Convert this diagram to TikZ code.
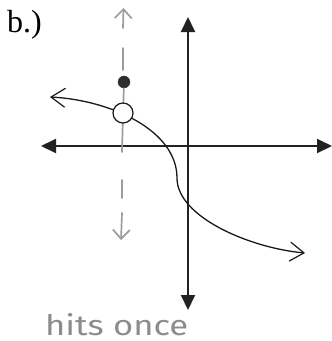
\documentclass[tikz,border=0pt]{standalone}
\usepackage{fontspec}
\setmainfont{Liberation Serif}
\newfontfamily\handfont{Fira Sans}
\usetikzlibrary{arrows.meta}
\definecolor{axiscol}{HTML}{222222}
\definecolor{pencil}{HTML}{9C9C9C}
\definecolor{handgray}{HTML}{8C8C8C}
\tikzset{
  axisline/.style={line width=2pt, draw=axiscol,
    {Triangle[length=15pt,width=14pt]}-{Triangle[length=15pt,width=14pt]}},
  curveline/.style={line width=1.3pt, draw=black!90,
    {Straight Barb[length=14pt,width=19pt,line width=1.2pt]}-{Straight Barb[length=14pt,width=19pt,line width=1.2pt]}},
  pencilline/.style={line width=1.7pt, draw=pencil, line cap=round},
  pencilarrow/.style={pencilline, -{Straight Barb[length=9pt,width=17pt,line width=1.7pt]}},
  dotnode/.style={circle, fill=black!82, draw=black!82, minimum size=12pt, inner sep=0pt},
  holenode/.style={circle, fill=white, draw=black!90, line width=1.2pt, minimum size=20pt, inner sep=0pt}
}
\begin{document}
\begin{tikzpicture}[x=1pt,y=-1pt]
\useasboundingbox (0,0) rectangle (332,341);
% axes
\coordinate (xl) at (41,146);
\coordinate (xr) at (332,146);
\coordinate (yt) at (188,17);
\coordinate (yb) at (188,310);
\draw[axisline] (xl) -- (xr);
\draw[axisline] (yb) -- (yt);
% pencil vertical line
\coordinate (pa0) at (123,28);
\coordinate (pa1) at (123.5,8);
\draw[pencilarrow] (pa0) -- (pa1);
\coordinate (pd0) at (123,48);
\coordinate (pd1) at (123,70);
\draw[pencilline] (pd0) -- (pd1);
\coordinate (holec) at (123,113);
\node[dotnode] (dot) at (124,82) {};
\draw[pencilline] (dot) -- (holec);
\coordinate (pb) at (122,152);
\draw[pencilline] (holec) -- (pb);
\coordinate (pe0) at (122,180);
\coordinate (pe1) at (122,198);
\draw[pencilline] (pe0) -- (pe1);
\coordinate (pf0) at (122,213);
\coordinate (pf1) at (121,240);
\draw[pencilarrow] (pf0) -- (pf1);
% curve
\coordinate (cl) at (50,97);
\coordinate (cm) at (177,178);
\coordinate (cr) at (305,253);
\draw[curveline] (cl) .. controls (110,100) and (177,130) .. (cm) .. controls (177,217) and (250,248) .. (cr);
\node[holenode] (hole) at (holec) {};
% texts
\node[anchor=base west, inner sep=0pt, font=\fontsize{32}{32}\selectfont] (lbl) at (7,32) {b.)};
\node[anchor=base west, text=handgray, inner sep=0pt] (note) at (45,335) {\resizebox{143pt}{22pt}{\handfont hits once}};
\end{tikzpicture}
\end{document}
